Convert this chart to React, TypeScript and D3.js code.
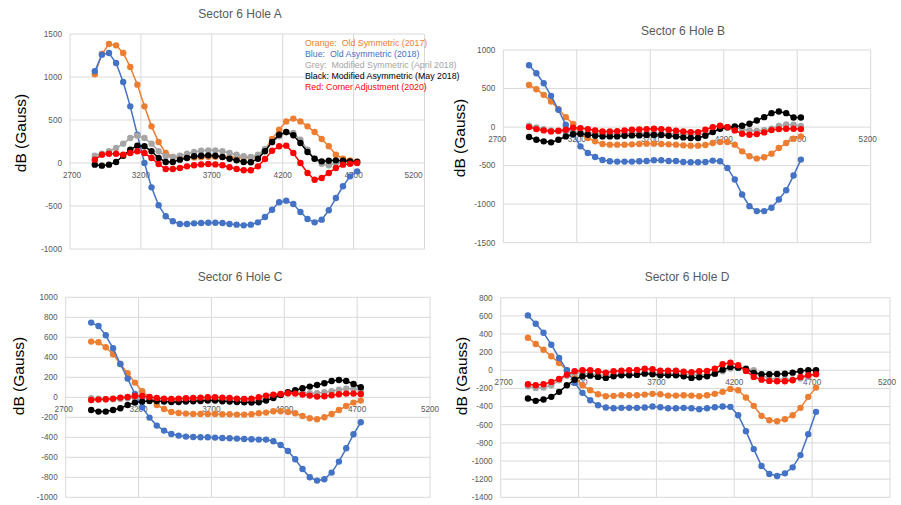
import React from "react";
import * as d3 from "d3";

const X_VALUES = [2875, 2925, 2975, 3025, 3075, 3125, 3175, 3225, 3275, 3325, 3375, 3425, 3475, 3525, 3575, 3625, 3675, 3725, 3775, 3825, 3875, 3925, 3975, 4025, 4075, 4125, 4175, 4225, 4275, 4325, 4375, 4425, 4475, 4525, 4575, 4625, 4675, 4725];
const X_TICKS = [2700, 3200, 3700, 4200, 4700, 5200];

const SERIES_NAMES = ["Orange:  Old Symmetric (2017)", "Blue:  Old Asymmetric (2018)", "Grey:  Modified Symmetric (April 2018)", "Black: Modified Asymmetric (May 2018)", "Red: Corner Adjustment (2020)"];
const SERIES_COLORS = ["#ED7D31", "#4472C4", "#A5A5A5", "#000000", "#FF0000"];

// Hole A
const A_ORANGE = [1031, 1267, 1384, 1368, 1279, 1116, 911, 659, 426, 244, 116, 70, 70, 65, 65, 68, 72, 72, 70, 68, 65, 62, 65, 78, 155, 279, 388, 484, 516, 484, 426, 360, 279, 194, 97, 50, 31, 19];
const A_BLUE = [1066, 1260, 1279, 1163, 942, 659, 329, 0, -283, -492, -620, -678, -709, -709, -702, -698, -694, -694, -698, -709, -717, -725, -717, -690, -628, -543, -457, -438, -477, -570, -651, -690, -659, -550, -407, -271, -155, -97];
const A_GREY = [85, 108, 136, 174, 225, 290, 318, 290, 225, 136, 78, 70, 85, 108, 128, 143, 147, 147, 136, 116, 97, 78, 70, 97, 163, 240, 310, 357, 349, 271, 155, 50, -8, -27, 0, 8, 12, 12];
const A_BLACK = [-19, -31, -19, 12, 85, 155, 202, 194, 136, 58, 12, 12, 39, 58, 78, 85, 89, 85, 70, 50, 31, 12, 8, 50, 136, 244, 329, 360, 322, 233, 128, 50, 19, 27, 31, 27, 19, 12];
const A_RED = [39, 97, 108, 108, 97, 116, 136, 116, 58, -12, -70, -70, -58, -39, -27, -16, -12, -16, -27, -50, -70, -85, -85, -39, 47, 143, 194, 202, 116, 0, -116, -194, -174, -116, -58, -19, -8, 0];

// Hole B
const B_ORANGE = [547, 491, 418, 332, 233, 129, 39, -86, -142, -185, -220, -228, -228, -228, -224, -220, -215, -215, -220, -224, -228, -237, -241, -241, -233, -207, -194, -194, -228, -315, -379, -409, -392, -345, -272, -207, -151, -121];
const B_BLUE = [802, 698, 569, 405, 224, 30, -99, -250, -336, -388, -427, -444, -448, -448, -448, -444, -440, -431, -431, -440, -440, -453, -457, -457, -453, -435, -444, -530, -681, -875, -1026, -1090, -1090, -1047, -940, -819, -629, -422];
const B_GREY = [17, -4, -26, -45, -55, -60, -65, -70, -75, -80, -85, -85, -85, -85, -80, -80, -80, -80, -85, -85, -90, -90, -95, -95, -90, -60, -20, 0, -5, -25, -45, -50, -40, -20, 15, 35, 30, 15];
const B_BLACK = [-129, -164, -185, -198, -164, -121, -91, -86, -99, -112, -121, -121, -121, -112, -108, -108, -103, -103, -103, -112, -121, -134, -142, -142, -112, -65, -22, -4, 9, 17, 43, 86, 129, 181, 203, 181, 125, 125];
const B_RED = [0, -26, -43, -56, -47, -34, -9, -13, -26, -43, -56, -56, -52, -43, -34, -30, -26, -22, -26, -34, -47, -56, -65, -65, -34, 0, 17, 0, -43, -86, -99, -91, -69, -39, -26, -22, -22, -26];

// Hole C
const C_ORANGE = [557, 550, 500, 430, 333, 240, 147, 60, 0, -77, -117, -147, -157, -163, -167, -167, -167, -167, -170, -170, -173, -173, -170, -160, -153, -140, -140, -147, -160, -187, -210, -220, -200, -167, -127, -87, -53, -33];
const C_BLUE = [747, 713, 620, 490, 333, 187, 33, -100, -203, -283, -333, -367, -383, -393, -397, -400, -400, -403, -407, -410, -413, -417, -420, -423, -423, -440, -477, -537, -620, -717, -800, -833, -820, -753, -643, -510, -370, -250];
const C_GREY = [-10, -15, -20, -20, -15, -10, -5, -5, -15, -20, -25, -25, -25, -25, -22, -20, -20, -20, -22, -25, -25, -28, -30, -25, -10, 10, 25, 40, 45, 45, 40, 40, 50, 60, 75, 85, 85, 70];
const C_BLACK = [-127, -143, -143, -127, -110, -77, -53, -43, -37, -37, -43, -47, -47, -43, -40, -37, -33, -33, -40, -43, -47, -50, -53, -50, -33, -7, 23, 50, 70, 90, 107, 123, 140, 163, 173, 163, 133, 100];
const C_RED = [-27, -23, -20, -13, -3, 3, 13, 13, 3, -7, -13, -17, -13, -10, -7, -3, 0, 0, -3, -7, -13, -17, -13, 0, 17, 27, 33, 40, 37, 27, 17, 7, 10, 20, 30, 37, 37, 33];

// Hole D
const D_ORANGE = [359, 290, 227, 154, 81, 0, -73, -165, -220, -264, -286, -282, -275, -275, -275, -268, -260, -264, -279, -279, -275, -279, -286, -275, -260, -238, -205, -220, -300, -392, -502, -550, -561, -539, -495, -414, -293, -191];
const D_BLUE = [605, 513, 414, 282, 136, 0, -139, -249, -330, -385, -410, -418, -414, -414, -414, -410, -400, -407, -418, -418, -414, -418, -429, -418, -407, -400, -403, -495, -671, -869, -1055, -1143, -1165, -1136, -1070, -935, -704, -458];
const D_GREY = [-176, -194, -190, -165, -110, -60, -30, -30, -40, -50, -55, -50, -45, -45, -40, -30, -30, -35, -40, -40, -45, -50, -55, -50, -40, -10, 20, 25, 20, 0, -60, -90, -100, -100, -100, -90, -70, -40];
const D_BLACK = [-311, -337, -322, -293, -238, -165, -103, -66, -59, -73, -84, -66, -55, -55, -51, -37, -44, -55, -55, -55, -66, -84, -77, -66, -37, 7, 37, 29, 15, -29, -44, -44, -40, -37, -26, -7, 0, 0];
const D_RED = [-154, -165, -154, -128, -95, -48, -11, 0, 0, -11, -26, -11, -4, 0, 4, 18, 11, -4, -4, -4, -15, -22, -11, -7, 18, 66, 84, 55, -7, -73, -103, -117, -121, -121, -110, -73, -55, -44];

const A_Y_TICKS = [-1000, -500, 0, 500, 1000, 1500];
const B_Y_TICKS = [-1500, -1000, -500, 0, 500, 1000];
const C_Y_TICKS = [-1000, -800, -600, -400, -200, 0, 200, 400, 600, 800, 1000];
const D_Y_TICKS = [-1400, -1200, -1000, -800, -600, -400, -200, 0, 200, 400, 600, 800];

const panels = [
  { title: "Sector 6 Hole A", series: [A_ORANGE, A_BLUE, A_GREY, A_BLACK, A_RED], yTicks: A_Y_TICKS,
    left: 70, right: 424.5, top: 34, bottom: 249, titleX: 240, titleY: 14, yTitleX: 21, yTitleY: 133, firstShift: 2, lastShift: -11 },
  { title: "Sector 6 Hole B", series: [B_ORANGE, B_BLUE, B_GREY, B_BLACK, B_RED], yTicks: B_Y_TICKS,
    left: 503.3, right: 870.7, top: 50, bottom: 242.7, titleX: 683, titleY: 31, yTitleX: 460, yTitleY: 138, firstShift: -6, lastShift: -3 },
  { title: "Sector 6 Hole C", series: [C_ORANGE, C_BLUE, C_GREY, C_BLACK, C_RED], yTicks: C_Y_TICKS,
    left: 65.7, right: 430, top: 297.3, bottom: 497.3, titleX: 240, titleY: 277, yTitleX: 19, yTitleY: 376, firstShift: -2, lastShift: 0 },
  { title: "Sector 6 Hole D", series: [D_ORANGE, D_BLUE, D_GREY, D_BLACK, D_RED], yTicks: D_Y_TICKS,
    left: 500.7, right: 890, top: 297.7, bottom: 497.3, titleX: 687, titleY: 277, yTitleX: 462, yTitleY: 376, firstShift: 3, lastShift: -3 },
];

const FONT = "'Liberation Sans', Arial, sans-serif";

function Panel({ p }: { p: any }) {
  const yMin = p.yTicks[0];
  const yMax = p.yTicks[p.yTicks.length - 1];
  const x = d3.scaleLinear().domain([X_TICKS[0], X_TICKS[X_TICKS.length - 1]]).range([p.left, p.right]);
  const y = d3.scaleLinear().domain([yMin, yMax]).range([p.bottom, p.top]);
  const line = d3.line<number>().x((_, i) => x(X_VALUES[i])).y((v) => y(v));
  const shiftFor = (i: number) => (i === 0 ? p.firstShift : i === X_TICKS.length - 1 ? p.lastShift : 0);
  return (
    <g>
      {p.yTicks.map((t: number) => (
        <line key={"h" + t} x1={p.left} x2={p.right} y1={y(t)} y2={y(t)} stroke="#D9D9D9" strokeWidth={1} />
      ))}
      {X_TICKS.map((t) => (
        <line key={"v" + t} x1={x(t)} x2={x(t)} y1={p.top} y2={p.bottom} stroke="#D9D9D9" strokeWidth={1} />
      ))}
      {p.yTicks.map((t: number) => (
        <text key={"yl" + t} x={p.left - 8} y={y(t)} dy="0.35em" textAnchor="end" fontSize={8.2} fill="#595959" fontFamily={FONT}>{t}</text>
      ))}
      {X_TICKS.map((t, i) => (
        <text key={"xl" + t} x={x(t) + shiftFor(i)} y={y(0) + 12} dy="0.35em" textAnchor="middle" fontSize={8.2} fill="#595959" fontFamily={FONT}>{t}</text>
      ))}
      <text x={p.titleX} y={p.titleY} dy="0.35em" textAnchor="middle" fontSize={12} fill="#595959" fontFamily={FONT}>{p.title}</text>
      <text transform={`translate(${p.yTitleX},${p.yTitleY}) rotate(-90)`} textAnchor="middle" dy="0.35em" fontSize={15.5} fill="#000" fontFamily={FONT}>dB (Gauss)</text>
      {p.series.map((s: number[], si: number) => (
        <g key={"s" + si}>
          <path d={line(s) || ""} fill="none" stroke={SERIES_COLORS[si]} strokeWidth={1.5} />
          {s.map((v, i) => (
            <circle key={i} cx={x(X_VALUES[i])} cy={y(v)} r={3.2} fill={SERIES_COLORS[si]} />
          ))}
        </g>
      ))}
    </g>
  );
}

export default function App() {
  return (
    <svg width={901} height={505} style={{ position: "absolute", left: 0, top: 0, background: "#fff" }}>
      <rect width={901} height={505} fill="#fff" />
      {panels.map((p, i) => <Panel key={i} p={p} />)}
      {SERIES_NAMES.map((n, i) => (
        <text key={n} x={305} y={42.5 + 11 * i} dy="0.35em" fontSize={8.8} fill={SERIES_COLORS[i]} fontFamily={FONT} style={{ whiteSpace: "pre" }}>{n}</text>
      ))}
    </svg>
  );
}
